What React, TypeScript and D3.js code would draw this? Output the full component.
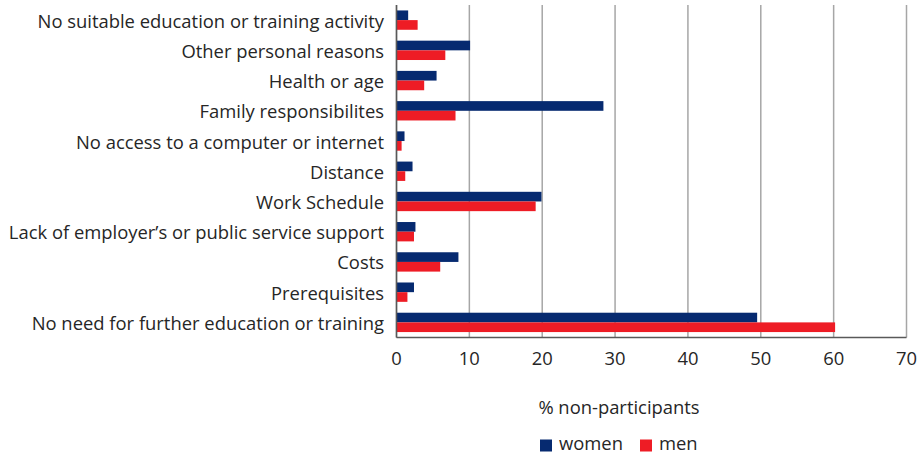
import React from "react";
import * as d3 from "d3";

const categories = [
  "No suitable education or training activity",
  "Other personal reasons",
  "Health or age",
  "Family responsibilites",
  "No access to a computer or internet",
  "Distance",
  "Work Schedule",
  "Lack of employer’s or public service support",
  "Costs",
  "Prerequisites",
  "No need for further education or training",
];
const women = [1.6, 10.1, 5.5, 28.4, 1.1, 2.2, 19.9, 2.6, 8.5, 2.4, 49.5];
const men = [2.9, 6.7, 3.8, 8.1, 0.7, 1.2, 19.1, 2.4, 6.0, 1.5, 60.2];
const xTicks = [0, 10, 20, 30, 40, 50, 60, 70];
const seriesNames = ["women", "men"];
const colors = ["#062a70", "#ee1c25"];

const W = 919;
const H = 455;
const FONT = "'Open Sans', sans-serif";
const FS = 18.4;
const TXT = "#262626";

export default function App() {
  const left = 396.5;
  const right = 906.5;
  const top = 5;
  const bottom = 337.5;
  const x = d3.scaleLinear().domain([0, 70]).range([left, right]);
  const y = d3.scaleBand<string>().domain(categories).range([top, bottom]).paddingInner(0.36).paddingOuter(0.18);
  const sub = d3.scaleBand<string>().domain(seriesNames).range([0, y.bandwidth()]);
  const data = [women, men];
  return (
    <svg width={W} height={H} style={{ position: "absolute", left: 0, top: 0, background: "#fff" }}>
      {xTicks.map((t) => (
        <line key={"g" + t} x1={x(t)} x2={x(t)} y1={top} y2={bottom} stroke="#a6a6a6" strokeWidth={1.5} />
      ))}
      {categories.map((c, i) => (
        <g key={c}>
          {data.map((s, j) => (
            <rect
              key={j}
              x={x(0)}
              y={(y(c) as number) + (sub(seriesNames[j]) as number)}
              width={x(s[i]) - x(0)}
              height={sub.bandwidth()}
              fill={colors[j]}
            />
          ))}
          <text
            x={384}
            y={(y(c) as number) + y.bandwidth() / 2}
            textAnchor="end"
            dominantBaseline="central"
            fontFamily={FONT}
            fontSize={FS}
            fill={TXT}
          >
            {c}
          </text>
        </g>
      ))}
      <line x1={x(0)} x2={x(0)} y1={top} y2={bottom} stroke="#595959" strokeWidth={1.5} />
      <line x1={x(0)} x2={x(70)} y1={bottom} y2={bottom} stroke="#595959" strokeWidth={1.5} />
      {xTicks.map((t) => (
        <text
          key={"t" + t}
          x={x(t)}
          y={357}
          textAnchor="middle"
          dominantBaseline="central"
          fontFamily={FONT}
          fontSize={FS}
          fill={TXT}
        >
          {t}
        </text>
      ))}
      <text x={619} y={406} textAnchor="middle" dominantBaseline="central" fontFamily={FONT} fontSize={FS} fill={TXT}>
        % non-participants
      </text>
      <rect x={540} y={439.5} width={12} height={12} fill={colors[0]} />
      <text x={559} y={450} fontFamily={FONT} fontSize={FS} fill={TXT}>
        women
      </text>
      <rect x={640} y={439.5} width={12} height={12} fill={colors[1]} />
      <text x={659} y={450} fontFamily={FONT} fontSize={FS} fill={TXT}>
        men
      </text>
    </svg>
  );
}
